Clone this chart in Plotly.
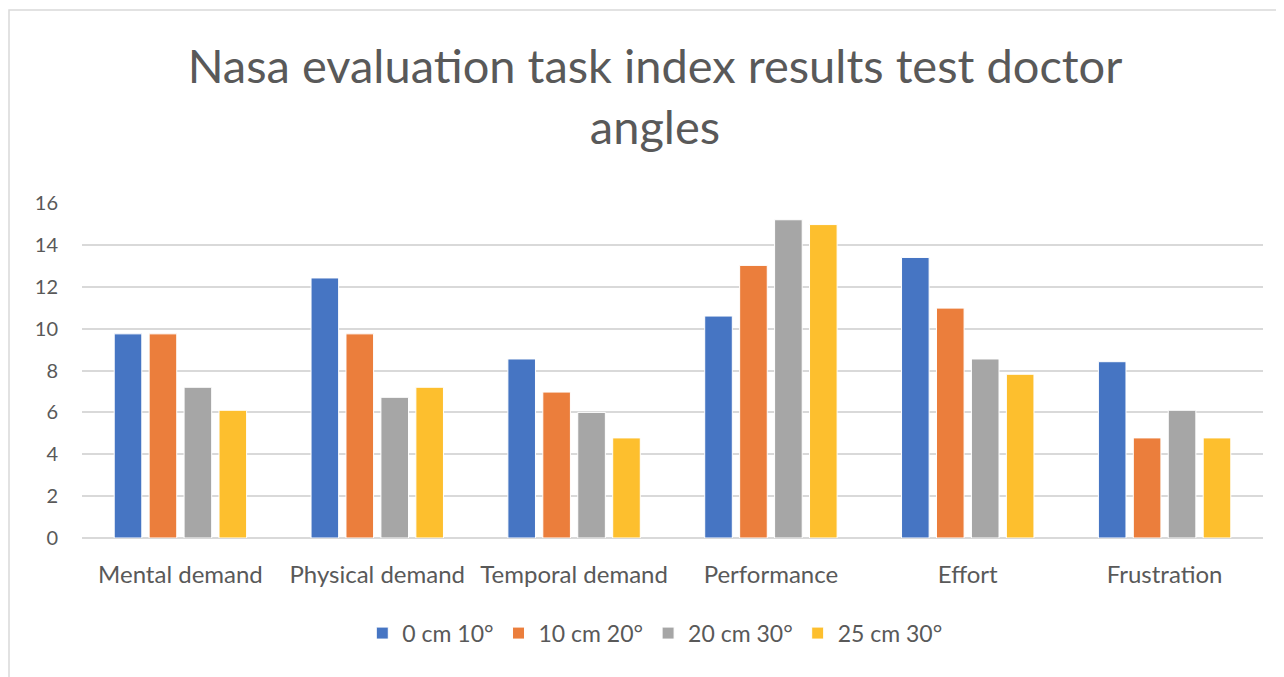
import plotly.graph_objects as go

categories = ["Mental demand", "Physical demand", "Temporal demand", "Performance", "Effort", "Frustration"]
series_names = ["0 cm 10°", "10 cm 20°", "20 cm 30°", "25 cm 30°"]
s0 = [9.75, 12.42, 8.55, 10.6, 13.4, 8.42]
s1 = [9.75, 9.75, 6.97, 13.02, 10.98, 4.78]
s2 = [7.2, 6.72, 6.0, 15.2, 8.55, 6.1]
s3 = [6.1, 7.2, 4.78, 14.97, 7.82, 4.78]
colors = ["#4675C3", "#EB7E3C", "#A6A6A6", "#FDBF2E"]
yticks = [0, 2, 4, 6, 8, 10, 12, 14, 16]

FONT = "Lato"
W, H = 1276, 669  # page body has an 8px margin
fig = go.Figure()
for name, vals, c in zip(series_names, [s0, s1, s2, s3], colors):
    fig.add_trace(go.Bar(x=categories, y=vals, name=name,
                         marker=dict(color=c, line=dict(color="white", width=1))))

fig.update_layout(
    width=W, height=H,
    margin=dict(l=74, r=21, t=195, b=139),
    paper_bgcolor="white", plot_bgcolor="white",
    barmode="group", bargap=0.29, bargroupgap=0.21,
    title=dict(text="Nasa evaluation task index results test doctor<br>angles",
               x=647 / W, xref="container", xanchor="center",
               y=1 - 75 / H, yref="container", yanchor="top",
               font=dict(family=FONT, size=47, color="#595959")),
    font=dict(family=FONT, color="#595959"),
    showlegend=True,
    legend=dict(orientation="h", x=0.485, xanchor="center", y=-0.284, yanchor="middle",
                font=dict(family=FONT, size=23, color="#595959"),
                itemwidth=30, traceorder="normal"),
    xaxis=dict(showgrid=False, showline=False, ticks="", ticklabelstandoff=20,
               tickfont=dict(family=FONT, size=24, color="#595959")),
    yaxis=dict(range=[0, 16], tickvals=yticks, showgrid=True, gridcolor="#d9d9d9",
               gridwidth=1.5, zeroline=True, zerolinecolor="#d9d9d9", zerolinewidth=1.5,
               showline=False, ticks="", ticklabelstandoff=23,
               tickfont=dict(family=FONT, size=20, color="#595959")),
    shapes=[dict(type="rect", xref="paper", yref="paper",
                 x0=(1 - 74) / 1181, x1=(1290 - 74) / 1181,
                 y0=(530 - 690) / 335, y1=(530 - 2) / 335,
                 line=dict(color="#d9d9d9", width=1.5), fillcolor="rgba(0,0,0,0)", layer="below")],
)

fig.write_html("out.html")
